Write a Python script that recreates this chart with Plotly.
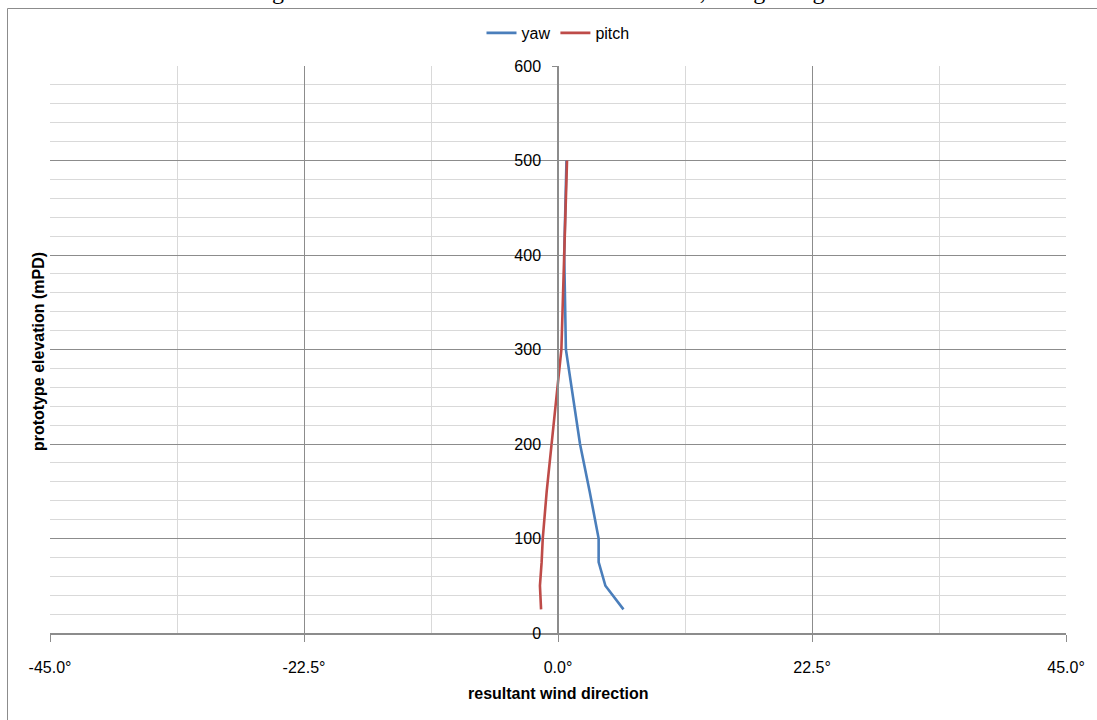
import plotly.graph_objects as go

# ---- data ----
elevation = [25, 50, 75, 100, 150, 200, 300, 400, 500]
yaw = [5.8, 4.2, 3.6, 3.6, 2.8, 1.95, 0.7, 0.55, 0.75]
pitch = [-1.5, -1.6, -1.45, -1.35, -1.0, -0.58, 0.3, 0.55, 0.8]

x_ticks = [-45, -22.5, 0, 22.5, 45]
x_tick_labels = ["-45.0°", "-22.5°", "0.0°", "22.5°", "45.0°"]
title_text = "Figure 8a: Wind characteristics for Model Run, Hong Kong Site"

W, H = 1097, 720
L, R, T, B = 50, 31, 66, 87
pw, ph = W - L - R, H - T - B

def px_x(p):
    return (p - L) / pw

def px_y(p):
    return (H - B - p) / ph

MAJOR = "#8c8c8c"
MINOR = "#d9d9d9"
FONT = "Liberation Sans, Arial, sans-serif"

fig = go.Figure()
fig.add_trace(go.Scatter(x=yaw, y=elevation, mode="lines", name="yaw",
                         line=dict(color="#4a7ebb", width=2.6)))
fig.add_trace(go.Scatter(x=pitch, y=elevation, mode="lines", name="pitch",
                         line=dict(color="#be4b48", width=2.6)))

fig.update_layout(
    width=W, height=H,
    margin=dict(l=L, r=R, t=T, b=B),
    paper_bgcolor="white", plot_bgcolor="white",
    font=dict(family=FONT, size=16, color="black"),
    showlegend=True,
    legend=dict(orientation="h", x=0.5, xanchor="center", y=px_y(33), yanchor="middle",
                font=dict(size=16), itemwidth=30, bgcolor="rgba(0,0,0,0)",
                tracegroupgap=0),
    xaxis=dict(range=[-45, 45], tickvals=x_ticks, ticktext=x_tick_labels,
               showgrid=True, gridcolor=MAJOR, gridwidth=1,
               minor=dict(dtick=11.25, tick0=0, showgrid=True, gridcolor=MINOR, gridwidth=1),
               zeroline=False, showline=True, linecolor=MAJOR, linewidth=2,
               ticks="outside", ticklen=7, tickcolor=MAJOR, tickwidth=1,
               ticklabelstandoff=12, mirror=False),
    yaxis=dict(range=[0, 600], dtick=100, tick0=0,
               showgrid=True, gridcolor=MAJOR, gridwidth=1,
               minor=dict(dtick=20, tick0=0, showgrid=True, gridcolor=MINOR, gridwidth=1),
               zeroline=False, showline=True, linecolor=MAJOR, linewidth=1.5,
               anchor="free", position=0.5,
               ticks="outside", ticklen=5, tickcolor=MAJOR, tickwidth=1,
               ticklabelstandoff=8),
    annotations=[
        dict(text=title_text, xref="paper", yref="paper", x=px_x(560), y=px_y(6),
             xanchor="center", yanchor="bottom", showarrow=False,
             font=dict(family="Liberation Serif, Times New Roman, serif", size=24)),
        dict(text="<b>resultant wind direction</b>", xref="paper", yref="paper",
             x=0.5, y=px_y(693), xanchor="center", yanchor="middle", showarrow=False,
             font=dict(size=16)),
        dict(text="<b>prototype elevation (mPD)</b>", xref="paper", yref="paper",
             x=px_x(38), y=px_y(352), xanchor="center", yanchor="middle", showarrow=False,
             textangle=-90, font=dict(size=16)),
    ],
    shapes=[
        dict(type="rect", xref="paper", yref="paper",
             x0=px_x(7.5), x1=px_x(1120), y0=px_y(8.5), y1=px_y(760),
             line=dict(color="#8c8c8c", width=1), fillcolor="rgba(0,0,0,0)", layer="below"),
    ],
)

fig.write_html("out.html")
